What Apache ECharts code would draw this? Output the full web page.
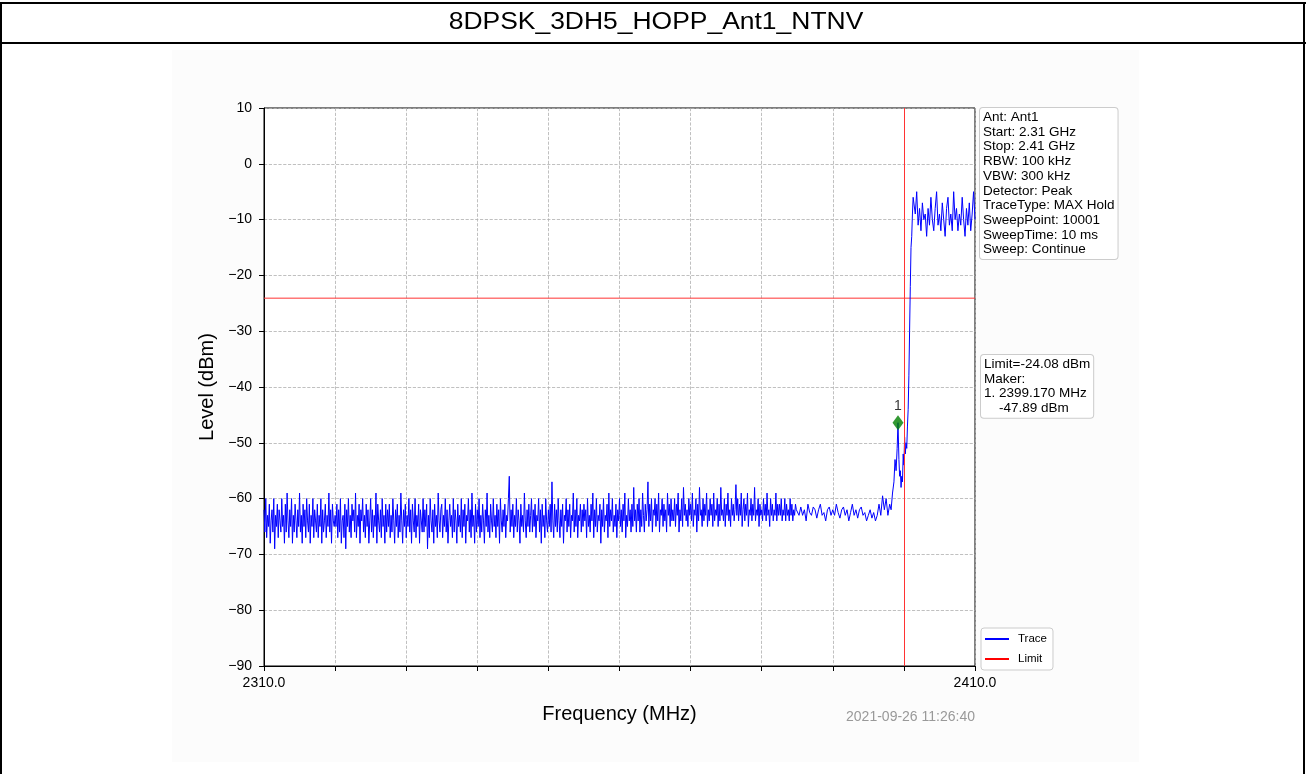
<!DOCTYPE html>
<html>
<head>
<meta charset="utf-8">
<script src="https://cdn.jsdelivr.net/npm/echarts@6/dist/echarts.min.js"></script>
<style>
html,body{margin:0;padding:0;background:#fff;}
#c{width:1308px;height:774px;}
</style>
</head>
<body>
<div id="c"></div>
<script>
// ---- data ----
const title = '8DPSK_3DH5_HOPP_Ant1_NTNV';
const startMHz = 2310;
const stopMHz = 2410;
const noiseStep = 0.125; // MHz between read samples (2310 .. 2384.875)
const noiseLevels = [
-62,-66,-60,-67,-63,-65,-61,-68,-64,-62,-66,-60,-69,-63,-65,-61,-67,-62,-64,-66,
-60,-65,-63,-68,-61,-66,-59,-64,-67,-62,-65,-60,-68,-63,-66,-61,-64,-67,-62,-65,
-59,-66,-63,-68,-61,-65,-62,-67,-60,-64,-66,-61,-68,-63,-65,-60,-67,-62,-64,-66,
-61,-67,-63,-65,-60,-68,-62,-66,-64,-61,-67,-63,-65,-59,-66,-62,-68,-61,-64,-65,
-63,-65,-61,-67,-62,-66,-60,-68,-64,-63,-67,-61,-69,-62,-65,-60,-66,-63,-67,-61,
-64,-62,-66,-59,-67,-63,-65,-61,-68,-62,-64,-60,-66,-63,-67,-61,-65,-62,-68,-64,
-60,-66,-62,-67,-63,-65,-59,-68,-61,-64,-66,-62,-67,-60,-65,-63,-68,-61,-66,-62,
-65,-61,-67,-63,-66,-60,-64,-68,-62,-65,-61,-67,-63,-66,-59,-64,-68,-62,-65,-61,
-67,-63,-65,-60,-66,-62,-68,-61,-64,-66,-60,-67,-63,-65,-61,-68,-62,-64,-66,-60,
-66,-62,-65,-61,-69,-63,-67,-60,-64,-66,-62,-68,-61,-65,-63,-67,-59,-64,-66,-62,
-61,-67,-63,-65,-60,-66,-62,-68,-64,-61,-65,-63,-67,-60,-66,-62,-64,-68,-61,-65,
-63,-66,-60,-67,-62,-65,-61,-68,-63,-64,-60,-66,-62,-67,-59,-65,-63,-68,-61,-66,
-62,-65,-60,-67,-63,-66,-61,-64,-68,-62,-65,-59,-66,-63,-67,-61,-64,-66,-60,-65,
-63,-67,-61,-65,-62,-68,-60,-64,-66,-62,-65,-61,-67,-63,-64,-60,-56,-66,-62,-65,
-61,-67,-63,-65,-60,-66,-62,-64,-68,-61,-65,-63,-66,-59,-64,-67,-62,-65,-61,-66,
-63,-60,-66,-62,-65,-61,-67,-63,-64,-60,-66,-62,-68,-61,-65,-63,-67,-60,-64,-66,
-62,-65,-61,-66,-57,-64,-67,-61,-65,-62,-66,-60,-64,-67,-62,-65,-61,-68,-63,-64,
-60,-66,-62,-65,-61,-67,-63,-64,-59,-66,-62,-65,-60,-67,-63,-64,-61,-66,-62,-65,
-61,-64,-62,-67,-60,-65,-63,-66,-61,-64,-59,-67,-62,-65,-60,-66,-63,-64,-61,-68,
-62,-65,-60,-66,-63,-64,-61,-67,-59,-65,-62,-64,-60,-66,-63,-65,-61,-67,-62,-64,
-60,-65,-62,-66,-61,-64,-59,-67,-63,-65,-60,-64,-62,-66,-61,-65,-58,-64,-62,-66,
-61,-64,-60,-66,-62,-65,-59,-63,-66,-61,-64,-62,-57,-65,-61,-64,-60,-66,-62,-63,
-60,-65,-61,-64,-59,-66,-62,-63,-60,-65,-61,-64,-62,-66,-59,-63,-61,-65,-60,-64,
-62,-64,-60,-65,-61,-63,-59,-66,-62,-64,-60,-65,-58,-63,-61,-64,-62,-65,-60,-63,
-61,-64,-59,-65,-62,-63,-60,-66,-61,-64,-58,-63,-62,-65,-60,-64,-61,-63,-59,-65,
-62,-64,-60,-63,-61,-65,-59,-64,-62,-63,-60,-65,-61,-64,-58,-63,-62,-64,-60,-65,
-61,-63,-59,-64,-62,-65,-60,-63,-61,-64,-62,-57.5,-63,-60,-64,-61,-63,-59,-65,-62,
-60,-64,-61,-63,-59,-65,-62,-63,-60,-64,-61,-63,-58,-64,-62,-63,-60,-65,-61,-63,
-62,-64,-60,-63,-61,-64,-59,-63,-62,-65,-60,-63,-61,-64,-62,-63,-59,-64,-61,-63,
-61,-63,-60,-64,-62,-63,-60,-64,-61,-63,-62,-64,-60,-63,-61,-64,-62,-63,-61,-62
];
const quietStart = 2385; // quieter stretch, read every 0.25 MHz
const quietStep = 0.25;
const quietLevels = [
-62,-63,-61.5,-63,-62,-64,-61,-62.5,-63,-61.5,-62,-63.5,-62,-61,-63,-62.5,-64,-62,-61.5,-63,
-62,-63,-61,-62.5,-63.5,-62,-61.5,-63,-62,-64,-62.5,-61,-63,-62,-63.5,-62,-61.5,-63,-62.5,-64,
-63,-62,-63.5,-62.5,-64,-63,-61,-63,-59.5,-62,-60,-63
];
const edgeFreqs  = [2398.0,2398.2,2398.4,2398.6,2398.75,2398.9,2399.05,2399.17,2399.3,2399.4,2399.5,2399.6,2399.7,2399.8,2399.9,2400.0,2400.1,2400.2,2400.3,2400.4,2400.5,2400.6,2400.7,2400.8,2400.9,2401.0,2401.1,2401.2,2401.3];
const edgeLevels = [-61,-62,-59,-57,-53,-55,-51,-46.4,-53,-56,-55,-58,-56,-57,-52,-54,-49,-52,-50,-51,-47,-44,-38,-30,-22,-15,-13,-9,-6];
const plateauStart = 2401.4;
const plateauStep = 0.2;
const plateauLevels = [-6,-9,-5,-11,-8,-12,-7,-10,-9,-13,-8,-11,-6,-10,-12,-8,-5,-11,-9,-12,-7,-10,-13,-8,-6,-11,-9,-12,-5,-10,-8,-12,-9,-11,-6,-10,-13,-8,-11,-7,-12,-9,-5,-10];
const limitLevel = -24.08;
const limitFreq = 2400;
const markerPoint = [2399.17, -46.4];
const yTicks = [10,0,-10,-20,-30,-40,-50,-60,-70,-80,-90];
const infoLines = ['Ant: Ant1','Start: 2.31 GHz','Stop: 2.41 GHz','RBW: 100 kHz','VBW: 300 kHz','Detector: Peak','TraceType: MAX Hold','SweepPoint: 10001','SweepTime: 10 ms','Sweep: Continue'];
const markerLines = ['Limit=-24.08 dBm','Maker:','1. 2399.170 MHz','    -47.89 dBm'];
const timestamp = '2021-09-26 11:26:40';

// ---- build trace ----
const trace = [];
noiseLevels.forEach((v,i)=>trace.push([startMHz + i*noiseStep, v]));
quietLevels.forEach((v,i)=>trace.push([quietStart + i*quietStep, v]));
edgeFreqs.forEach((f,i)=>trace.push([f, edgeLevels[i]]));
plateauLevels.forEach((v,i)=>trace.push([plateauStart + i*plateauStep, v]));

const FONT = '"Liberation Sans", Arial, sans-serif';
const chart = echarts.init(document.getElementById('c'), null, {renderer:'canvas'});
const L = 264, R = 975, T = 108, B = 666;

chart.setOption({
  animation:false,
  backgroundColor:'#ffffff',
  textStyle:{fontFamily:FONT},
  grid:{left:L, top:T, width:R-L, height:B-T, show:true, borderColor:'#000', borderWidth:1, backgroundColor:'#ffffff'},
  graphic:[
    {type:'rect', z:-10, silent:true, shape:{x:172,y:50,width:967,height:712}, style:{fill:'#fcfcfc'}},
    {type:'rect', silent:true, shape:{x:0,y:2,width:1306,height:2}, style:{fill:'#000'}},
    {type:'rect', silent:true, shape:{x:0,y:42,width:1306,height:2}, style:{fill:'#000'}},
    {type:'rect', silent:true, shape:{x:0,y:2,width:2,height:772}, style:{fill:'#000'}},
    {type:'rect', silent:true, shape:{x:1303,y:2,width:2,height:772}, style:{fill:'#000'}},
    {type:'text', silent:true, x:656, y:23, scaleX:1.15, style:{text:title, font:'23px '+FONT, fill:'#000', align:'center', verticalAlign:'middle'}},
    {type:'text', silent:true, x:980, y:108, z:10, style:{text:infoLines.join('\n'), font:'13.5px '+FONT, lineHeight:14.7, fill:'#000',
      backgroundColor:'#fff', borderColor:'#cccccc', borderWidth:1, borderRadius:3, padding:[2,3,2,3]}},
    {type:'text', silent:true, x:981, y:355, z:10, style:{text:markerLines.join('\n'), font:'13.5px '+FONT, lineHeight:14.7, fill:'#000',
      backgroundColor:'#fff', borderColor:'#cccccc', borderWidth:1, borderRadius:3, padding:[2,3,2,3]}},
    {type:'text', silent:true, x:975, y:717, style:{text:timestamp, font:'14px '+FONT, fill:'#999', align:'right', verticalAlign:'middle'}}
  ],
  legend:{
    orient:'vertical', left:981, top:628, itemWidth:24, itemHeight:2, itemGap:8,
    backgroundColor:'#fff', borderColor:'#cccccc', borderWidth:1, borderRadius:3, padding:[5,6,5,4],
    textStyle:{fontFamily:FONT, fontSize:11.5, color:'#000', padding:[0,0,0,4]},
    data:[{name:'Trace', icon:'rect'},{name:'Limit', icon:'rect'}]
  },
  xAxis:{
    type:'value', min:startMHz, max:stopMHz, interval:10,
    name:'Frequency (MHz)', nameLocation:'middle', nameGap:38,
    nameTextStyle:{fontFamily:FONT, fontSize:20, color:'#000'},
    axisLine:{show:true, onZero:false, lineStyle:{color:'#000', width:1}},
    axisTick:{show:true, length:5, lineStyle:{color:'#000'}},
    axisLabel:{fontFamily:FONT, fontSize:14, color:'#000', margin:10, showMinLabel:true, showMaxLabel:true,
      formatter:v=> (v===startMHz||v===stopMHz) ? v.toFixed(1) : ''},
    splitLine:{show:true, lineStyle:{color:'#b0b0b0', type:'dashed', width:0.8}}
  },
  yAxis:{
    type:'value', min:-90, max:10, interval:10,
    name:'Level (dBm)', nameLocation:'middle', nameGap:44,
    nameTextStyle:{fontFamily:FONT, fontSize:20, color:'#000'},
    axisLine:{show:true, onZero:false, lineStyle:{color:'#000', width:1}},
    axisTick:{show:true, length:5, lineStyle:{color:'#000'}},
    axisLabel:{fontFamily:FONT, fontSize:14, color:'#000', margin:12,
      formatter:v=> yTicks.indexOf(v)>=0 ? (v<0 ? '\u2212'+Math.abs(v) : String(v)) : ''},
    splitLine:{show:true, lineStyle:{color:'#b0b0b0', type:'dashed', width:0.8}}
  },
  series:[
    {name:'Trace', type:'line', data:trace, showSymbol:false, symbol:'none', color:'#0000ff',
      lineStyle:{color:'#0000ff', width:1}, z:3, clip:true},
    {name:'Limit', type:'line', data:[[startMHz,limitLevel],[stopMHz,limitLevel]], showSymbol:false, symbol:'none', color:'#ff0000',
      lineStyle:{color:'#ff3333', width:1}, z:2,
      markLine:{silent:true, symbol:'none', label:{show:false}, lineStyle:{color:'#ff3333', width:1, type:'solid'}, data:[{xAxis:limitFreq}]}},
    {name:'Marker', type:'scatter', data:[markerPoint], symbol:'diamond', symbolSize:[11,15], itemStyle:{color:'#008000'}, z:5,
      label:{show:true, position:'top', distance:2, formatter:'1', fontFamily:FONT, fontSize:14, color:'#000'}}
  ]
});
</script>
</body>
</html>
